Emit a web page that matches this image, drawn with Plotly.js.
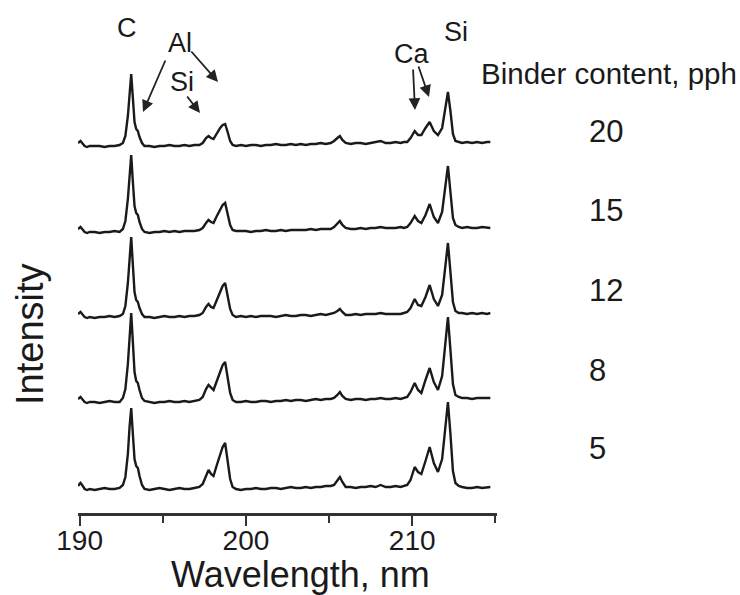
<!DOCTYPE html>
<html>
<head>
<meta charset="utf-8">
<script src="https://cdn.plot.ly/plotly-3.0.1.min.js"></script>
<style>html,body{margin:0;padding:0;background:#fff;}#chart{width:740px;height:595px;}</style>
</head>
<body>
<div id="chart"></div>
<script>
// Wavelength grid (nm), shared by all spectra
const wavelength = [
  189.9, 190.05, 190.15, 190.3, 190.45, 190.6, 190.9, 191.2, 191.5, 191.8,
  192.1, 192.4, 192.6, 192.75, 192.9, 193.0, 193.1, 193.2, 193.3, 193.4,
  193.5, 193.6, 193.75, 193.9, 194.2, 194.5, 194.8, 195.1, 195.4, 195.7,
  196.0, 196.3, 196.6, 196.9, 197.2, 197.4, 197.6, 197.75, 197.9, 198.05,
  198.25, 198.45, 198.6, 198.75, 198.9, 199.05, 199.2, 199.4, 199.7, 200.0,
  200.3, 200.6, 200.9, 201.2, 201.5, 201.8, 202.1, 202.4, 202.7, 203.0,
  203.3, 203.6, 203.9, 204.2, 204.5, 204.8, 205.1, 205.3, 205.5, 205.65,
  205.8, 206.0, 206.3, 206.6, 206.9, 207.2, 207.5, 207.8, 208.1, 208.4,
  208.7, 209.0, 209.3, 209.5, 209.7, 209.9, 210.15, 210.35, 210.55, 210.8,
  211.05, 211.3, 211.55, 211.8, 211.95, 212.15, 212.3, 212.45, 212.6, 212.8,
  213.0, 213.3, 213.6, 213.9, 214.2, 214.5, 214.7
];

// Intensities (arbitrary units), one array per binder content
const int5 = [
  3, 6, 4, 0, -1, 0, -1, 0, 1, 0,
  0, 1, 4, 12, 35, 62, 81, 55, 30, 23,
  21, 13, 4, 0, -1, 0, 1, 0, -1, 0,
  1, 0, 0, 1, 2, 5, 14, 19, 15, 13,
  24, 35, 42, 46, 30, 10, 2, 0, -1, 0,
  0, 1, 0, 0, 1, 1, 0, 1, 2, 1,
  1, 2, 1, 2, 2, 3, 3, 4, 8, 12,
  7, 2, 2, 1, 2, 2, 3, 2, 4, 2,
  2, 3, 2, 3, 4, 9, 22, 17, 15, 28,
  42, 26, 17, 30, 55, 87, 55, 18, 6, 3,
  2, 1, 1, 2, 1, 2, 2
];
const int8 = [
  3, 5, 3, 0, -1, 0, 0, -1, 0, 1,
  0, 0, 4, 13, 38, 68, 89, 60, 30, 21,
  19, 12, 4, 1, 0, -1, 0, 0, 1, 0,
  0, 1, 0, 1, 2, 5, 13, 17, 14, 12,
  21, 31, 37, 40, 26, 9, 2, 0, 0, 1,
  0, 0, 1, 1, 0, 1, 1, 2, 1, 2,
  2, 1, 2, 3, 2, 3, 3, 4, 7, 10,
  6, 3, 2, 3, 3, 2, 3, 3, 4, 3,
  3, 4, 3, 4, 5, 10, 19, 12, 9, 22,
  34, 20, 12, 26, 52, 85, 52, 18, 7, 5,
  4, 4, 3, 4, 4, 4, 4
];
const int12 = [
  3, 5, 3, 0, -1, 0, -1, 0, 0, 1,
  0, 1, 3, 11, 34, 60, 80, 52, 25, 17,
  15, 9, 3, 0, 0, -1, 0, 1, 0, 0,
  1, 0, 1, 1, 2, 4, 10, 13, 10, 9,
  17, 26, 31, 34, 22, 8, 2, 0, 1, 0,
  1, 0, 1, 1, 1, 0, 1, 2, 1, 1,
  2, 2, 1, 2, 3, 2, 3, 4, 6, 8,
  5, 2, 2, 3, 2, 3, 3, 3, 4, 3,
  3, 3, 3, 4, 5, 9, 18, 12, 11, 20,
  32, 18, 11, 22, 44, 74, 45, 15, 6, 4,
  4, 3, 4, 3, 4, 3, 4
];
const int15 = [
  3, 5, 3, 0, -1, 0, 0, -1, 0, 0,
  1, 0, 3, 11, 33, 58, 77, 50, 26, 19,
  17, 10, 3, 0, -1, 0, 0, 1, 0, 1,
  0, 1, 1, 1, 2, 4, 9, 12, 10, 9,
  16, 23, 27, 29, 19, 7, 2, 1, 1, 1,
  0, 1, 1, 2, 1, 1, 2, 1, 2, 2,
  2, 2, 3, 2, 3, 3, 3, 5, 8, 11,
  7, 4, 3, 3, 4, 3, 4, 4, 5, 4,
  4, 4, 5, 4, 5, 9, 16, 11, 9, 17,
  28, 15, 9, 20, 40, 66, 40, 14, 7, 5,
  4, 5, 4, 4, 5, 4, 4
];
const int20 = [
  3, 5, 3, 0, -1, 0, 0, 0, -1, 0,
  0, 1, 3, 10, 30, 55, 72, 48, 24, 17,
  15, 9, 3, 0, 0, -1, 0, 0, 1, 0,
  0, 1, 0, 1, 1, 3, 8, 10, 8, 7,
  13, 18, 21, 22, 14, 5, 1, 0, 1, 0,
  1, 1, 0, 1, 1, 2, 1, 1, 2, 1,
  2, 1, 2, 2, 3, 2, 3, 5, 8, 10,
  6, 3, 2, 3, 3, 2, 3, 4, 5, 3,
  3, 4, 3, 4, 4, 8, 15, 11, 11, 18,
  24, 15, 11, 18, 34, 54, 35, 12, 5, 4,
  3, 4, 3, 4, 3, 4, 4
];

const binderLabels = ['5', '8', '12', '15', '20'];
const elementLabels = ['C', 'Al', 'Si', 'Ca', 'Si'];
const xTickValues = [190, 200, 210];

// stacking offsets for the waterfall display
const stackOffsets = [24, 111, 196, 281, 367];
const spectra = [int5, int8, int12, int15, int20];

const FONT = 'Liberation Sans, Arial, Helvetica, sans-serif';
const INK = '#1a1a1a';

const traces = spectra.map((s, i) => ({
  type: 'scatter',
  mode: 'lines',
  x: wavelength,
  y: s.map(v => v + stackOffsets[i]),
  line: {color: '#1a1a1a', width: 2.4},
  name: binderLabels[i] + ' pph',
  showlegend: false,
  hoverinfo: 'skip'
}));

// page-pixel helpers for annotation placement
const L = 78, R = 497, B = 513, T = 0;
const px = x => (x - L) / (R - L);
const py = y => (B - y) / (B - T);

const annotations = [];
function label(text, x, y, size, xanchor, angle) {
  annotations.push({
    xref: 'paper', yref: 'paper', x: px(x), y: py(y), text: text,
    showarrow: false, xanchor: xanchor || 'center', yanchor: 'middle',
    textangle: angle || 0,
    font: {family: FONT, size: size, color: INK}
  });
}
function arrow(tailX, tailY, tipX, tipY) {
  annotations.push({
    xref: 'paper', yref: 'paper', x: px(tipX), y: py(tipY), text: '',
    showarrow: true, ax: tailX - tipX, ay: tailY - tipY, axref: 'pixel', ayref: 'pixel',
    arrowhead: 2, arrowsize: 1.3, arrowwidth: 1.8, arrowcolor: '#222', standoff: 0, startstandoff: 0
  });
}

// axis titles
label('Wavelength, nm', 300, 574, 36);
label('Intensity', 30, 334, 38, 'center', -90);

label(elementLabels[0], 127, 28, 27);
label(elementLabels[1], 180, 43, 27);
label(elementLabels[2], 182, 82, 27);
label(elementLabels[3], 411, 54, 27);
label(elementLabels[4], 456, 32, 27);
label('Binder content, pph', 479, 73, 29.5, 'left');
const binderY = [448, 370, 290, 210, 131];
binderLabels.forEach((t, i) => label(t, 587, binderY[i], 31, 'left'));

arrow(166, 59, 143, 112);
arrow(190, 50, 218, 82);
arrow(186, 95, 200, 113);
arrow(413, 68, 415, 110);
arrow(418, 65, 429, 97);

const layout = {
  width: 740, height: 595,
  margin: {l: L, r: 740 - R, t: T, b: 595 - B},
  paper_bgcolor: '#fff', plot_bgcolor: '#fff',
  font: {family: FONT, color: INK},
  showlegend: false,
  xaxis: {
    range: [189.9, 215.1],
    tickvals: xTickValues,
    ticktext: xTickValues.map(String),
    ticks: 'outside', ticklen: 10, tickwidth: 2, tickcolor: '#333',
    ticklabelstandoff: -9,
    minor: {dtick: 5, tick0: 190, ticks: 'outside', ticklen: 7, tickwidth: 2, tickcolor: '#333', showgrid: false},
    showline: true, linecolor: '#333', linewidth: 2.5,
    showgrid: false, zeroline: false,
    tickfont: {family: FONT, size: 28, color: INK}
  },
  yaxis: {
    range: [0, 513],
    showticklabels: false, ticks: '', showline: false, showgrid: false, zeroline: false
  },
  annotations: annotations
};

Plotly.newPlot('chart', traces, layout, {staticPlot: true, displayModeBar: false});
</script>
</body>
</html>
